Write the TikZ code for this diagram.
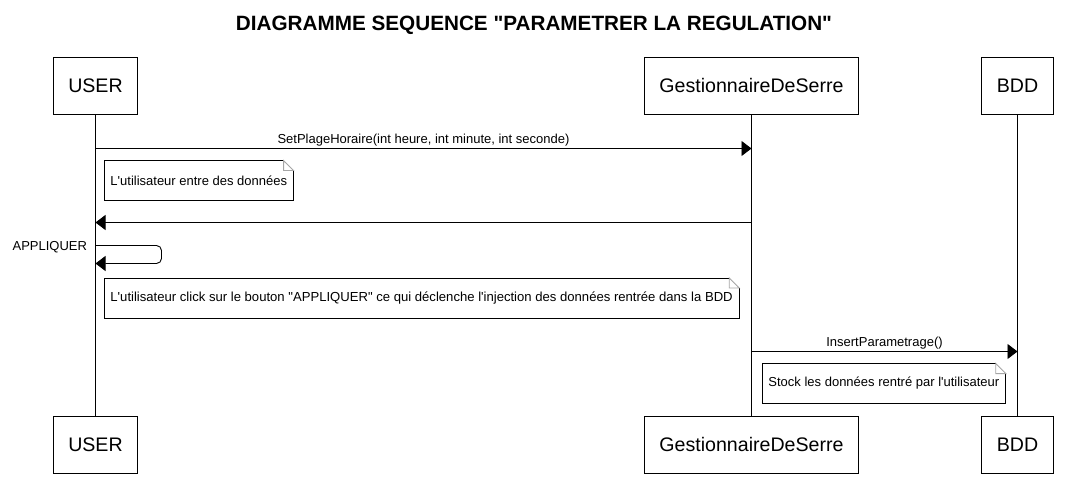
\documentclass[tikz,border=0pt]{standalone}
\usepackage{fontspec}
\setmainfont{Liberation Sans}[Ligatures=TeXOff]
\usetikzlibrary{arrows.meta,positioning,calc}

\begin{document}
\begin{tikzpicture}[x=1pt, y=-1pt, line width=0.9pt,
  actor/.style={draw, minimum height=57pt, inner xsep=15pt, font=\fontsize{19.6}{22}\selectfont},
  note/.style={anchor=west, minimum height=39pt, inner xsep=6pt, font=\fontsize{13}{15}\selectfont,
    append after command={\pgfextra{
      \draw ([xshift=-10pt]\tikzlastnode.north east) -- (\tikzlastnode.north west) -- (\tikzlastnode.south west)
        -- (\tikzlastnode.south east) -- ([yshift=-10pt]\tikzlastnode.north east);
      \draw[gray!70] ([xshift=-10pt]\tikzlastnode.north east) -- ([yshift=-10pt]\tikzlastnode.north east)
        -- ([xshift=-10pt,yshift=-10pt]\tikzlastnode.north east) -- cycle;
    }}},
  msg/.style={-{Triangle[length=10pt,width=15pt]}},
  lbl/.style={above, inner sep=1.5pt, font=\fontsize{13}{15}\selectfont}]
\useasboundingbox (0,0) rectangle (1066,497);

\node[font=\bfseries\fontsize{20.7}{24}\selectfont] (title) at (534,25) {DIAGRAMME SEQUENCE "PARAMETRER LA REGULATION"};

% participants
\node[actor] (user) at (95.5,85.5) {USER};
\node[actor] (gest) at (751.5,85.5) {GestionnaireDeSerre};
\node[actor] (bdd) at (1017.5,85.5) {BDD};
\node[actor] (userb) at (95.5,444.5) {USER};
\node[actor] (gestb) at (751.5,444.5) {GestionnaireDeSerre};
\node[actor] (bddb) at (1017.5,444.5) {BDD};

% lifelines
\draw (user) -- (userb);
\draw (gest) -- (gestb);
\draw (bdd) -- (bddb);

% points on the lifelines
\coordinate (u1) at (user |- 0,148.5);
\coordinate (g1) at (gest |- 0,148.5);
\coordinate (u2) at (user |- 0,222.5);
\coordinate (g2) at (gest |- 0,222.5);
\coordinate (u3) at (user |- 0,245.5);
\coordinate (u4) at (user |- 0,263.5);
\coordinate (g3) at (gest |- 0,351.5);
\coordinate (b3) at (bdd |- 0,351.5);

\draw[msg] (u1) -- node[lbl] {SetPlageHoraire(int heure, int minute, int seconde)} (g1);
\node[note] (n1) at (104,180.5) {L'utilisateur entre des données};
\draw[msg] (g2) -- (u2);
\draw[msg, rounded corners=5pt] (u3) -- ++(66,0) |- (u4);
\node[left=7pt of u3, inner sep=1pt, font=\fontsize{13}{15}\selectfont, yshift=-2pt] (appl) {APPLIQUER};
\node[note, font=\fontsize{13.1}{15}\selectfont] (n2) at (104,298) {L'utilisateur click sur le bouton "APPLIQUER" ce qui déclenche l'injection des données rentrée dans la BDD};
\draw[msg] (g3) -- node[lbl] {InsertParametrage()} (b3);
\node[note] (n3) at (762,383.5) {Stock les données rentré par l'utilisateur};
\end{tikzpicture}
\end{document}
